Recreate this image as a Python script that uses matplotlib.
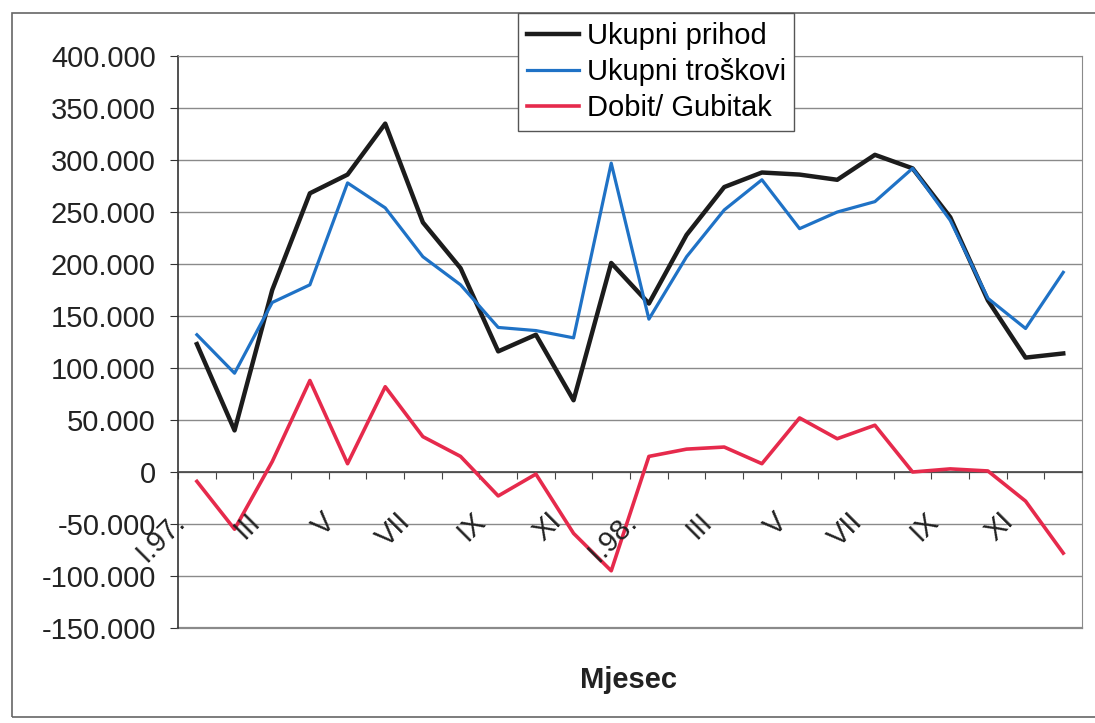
import matplotlib.pyplot as plt
from matplotlib.patches import Rectangle
from matplotlib.ticker import FuncFormatter
from matplotlib.transforms import ScaledTranslation

months = ["I.97.", "II", "III", "IV", "V", "VI", "VII", "VIII", "IX", "X", "XI", "XII",
          "I.98.", "II", "III", "IV", "V", "VI", "VII", "VIII", "IX", "X", "XI", "XII"]

prihod = [123000, 40000, 175000, 268000, 286000, 335000, 240000, 196000, 116000, 132000, 69000, 201000,
          162000, 228000, 274000, 288000, 286000, 281000, 305000, 292000, 245000, 165000, 110000, 114000]
troskovi = [132000, 95000, 163000, 180000, 278000, 254000, 207000, 180000, 139000, 136000, 129000, 297000,
            147000, 207000, 252000, 281000, 234000, 250000, 260000, 292000, 242000, 167000, 138000, 192000]
dobit = [-9000, -55000, 10000, 88000, 8000, 82000, 34000, 15000, -23000, -2000, -59000, -95000,
         15000, 22000, 24000, 8000, 52000, 32000, 45000, 0, 3000, 1000, -28000, -78000]

label_pos = [0, 2, 4, 6, 8, 10, 12, 14, 16, 18, 20, 22]
label_txt = ["I.97.", "III", "V", "VII", "IX", "XI", "I.98.", "III", "V", "VII", "IX", "XI"]

plt.rcParams["font.family"] = ["Liberation Sans", "DejaVu Sans"]

fig = plt.figure(figsize=(10.95, 7.23), dpi=100)
ax = fig.add_axes([0.1626, 0.1314, 0.8256, 0.7911])

x = list(range(len(months)))
ax.plot(x, prihod, color="#1c1c1c", lw=3.2, label="Ukupni prihod", zorder=4)
ax.plot(x, troskovi, color="#1f72c6", lw=2.3, label="Ukupni troškovi", zorder=5)
ax.plot(x, dobit, color="#e62a4c", lw=2.6, label="Dobit/ Gubitak", zorder=3)

ax.set_xlim(-0.5, 23.5)
ax.set_ylim(-150000, 400000)
ax.set_yticks(range(-150000, 400001, 50000))
ax.yaxis.set_major_formatter(FuncFormatter(lambda v, p: f"{int(v):,}".replace(",", ".")))
ax.tick_params(axis="y", labelsize=21, length=6, pad=10, color="#333333", labelcolor="#222222")
ax.grid(axis="y", color="#8a8a8a", lw=1)
ax.set_axisbelow(True)
# bottom border of the plot area
ax.axhline(-150000, color="#8a8a8a", lw=1.6, clip_on=False, zorder=1)

# category axis sits on the zero line
ax.spines["bottom"].set_position(("data", 0))
ax.spines["bottom"].set_color("#444444")
ax.spines["bottom"].set_linewidth(1.2)
ax.set_xticks([i - 0.5 for i in range(25)])
ax.set_xticklabels([])
ax.tick_params(axis="x", direction="out", length=5, color="#444444")
ax.spines["left"].set_color("#333333")
ax.spines["left"].set_linewidth(1.2)
for s in ["top", "right"]:
    ax.spines[s].set_color("#8a8a8a")

off = ScaledTranslation(-11 / 100, -51 / 100, fig.dpi_scale_trans)
for p, t in zip(label_pos, label_txt):
    ax.text(p, 0, t, transform=ax.transData + off, rotation=45, ha="right", va="baseline",
            rotation_mode="anchor", fontsize=21, color="#222222")

fig.text(628 / 1095, 1 - 680 / 723, "Mjesec", ha="center", va="center", fontsize=21,
         fontweight="bold", color="#222222")

# outer chart frame
fig.patches.append(Rectangle((12 / 1095, 1 - 717 / 723), 1.1, 704 / 723, transform=fig.transFigure,
                             fill=False, edgecolor="#666666", lw=1.2))

leg = fig.legend(loc="upper left", bbox_to_anchor=(518 / 1095, 1 - 13 / 723), fontsize=21,
                 handlelength=1.8, handletextpad=0.25, labelspacing=0.28, borderpad=0.3,
                 borderaxespad=0, fancybox=False, framealpha=1)
leg.get_frame().set_edgecolor("#555555")
leg.get_frame().set_linewidth(1)

fig.savefig("out.png", dpi=100)
